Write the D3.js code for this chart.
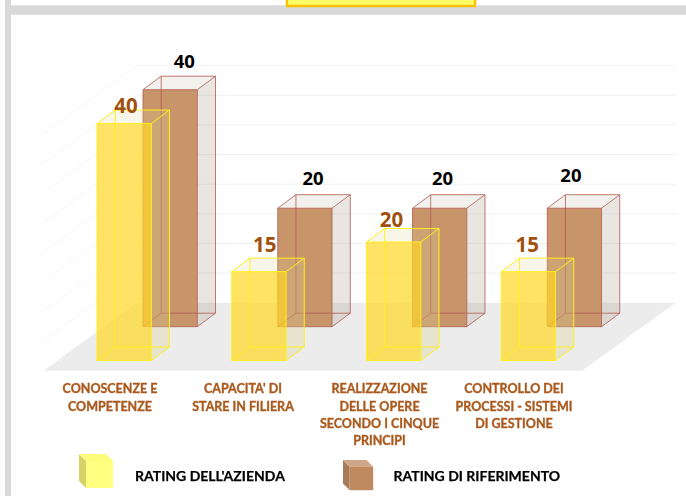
<!DOCTYPE html>
<html>

<head>
    <style>
        html, body { margin: 0; padding: 0; background: #fff; }
        svg { display: block; }
        text { font-family: Lato, "Open Sans", sans-serif; font-weight: 700; }
    </style>
</head>

<body>
    <div id="chart"></div>
    <script src="https://d3js.org/d3.v7.min.js"></script>
    <script>
        const categories = [
            ["CONOSCENZE E", "COMPETENZE"],
            ["CAPACITA' DI", "STARE IN FILIERA"],
            ["REALIZZAZIONE", "DELLE OPERE", "SECONDO I CINQUE", "PRINCIPI"],
            ["CONTROLLO DEI", "PROCESSI - SISTEMI", "DI GESTIONE"]
        ]
        const seriesNames = ["RATING DELL'AZIENDA", "RATING DI RIFERIMENTO"]
        const aziendaValues = [40, 15, 20, 15]
        const riferimentoValues = [40, 20, 20, 20]
        const gridTicks = [5, 10, 15, 20, 25, 30, 35, 40]

        const width = 686
        const height = 496

        const svg = d3.select("#chart").append("svg")
            .attr("width", width)
            .attr("height", height)

        const defs = svg.append("defs")
        defs.append("filter").attr("id", "soft")
            .append("feGaussianBlur").attr("stdDeviation", 0.35)

        // page frame around the chart
        svg.append("rect").attr("x", 5).attr("y", 5.3).attr("width", 681).attr("height", 9.4).attr("fill", "#d8d8d8")
        svg.append("rect").attr("x", 5).attr("y", 0).attr("width", 6).attr("height", 496).attr("fill", "#d8d8d8")
        svg.append("rect").attr("x", 287).attr("y", -4).attr("width", 188).attr("height", 10)
            .attr("fill", "#ffff66").attr("stroke", "#ffc000").attr("stroke-width", 2.4)

        // value -> pixels of height, category -> pixels across
        const y = d3.scaleLinear().domain([0, 40]).range([0, 237])
        const x = d3.scaleBand().domain(d3.range(categories.length)).range([43.3, 582.3])

        const floor = { left: 43.3, right: 582.3, front: 370.7, back: 302.7, dx: 93.4 }
        const barDepth = { dx: 18.2, dy: -13.5 }
        const barWidth = 54.3
        const yellowInset = 53.7
        const brownShift = 46
        const yellowBase = 360.5
        const brownBase = 326.7

        const line = d3.line()
        const closed = pts => line(pts) + "Z"

        // grid on left wall and back wall
        const grid = svg.append("g").attr("fill", "none").attr("stroke-width", 1)
        gridTicks.forEach(d => {
            const h = y(d)
            grid.append("path")
                .attr("d", line([[floor.left, floor.front - h], [floor.left + floor.dx, floor.back - h]]))
                .attr("stroke", "#f6f6f6")
            grid.append("path")
                .attr("d", line([[floor.left + floor.dx, floor.back - h], [floor.right + floor.dx, floor.back - h]]))
                .attr("stroke", "#f1f1f1")
        })

        // floor
        svg.append("path")
            .attr("d", closed([
                [floor.left, floor.front], [floor.right, floor.front],
                [floor.right + floor.dx, floor.back], [floor.left + floor.dx, floor.back]
            ]))
            .attr("fill", "#ececec")

        function drawBar(g, left, base, value, col) {
            const top = base - y(value)
            const r = left + barWidth
            const f = [[left, base], [r, base], [r, top], [left, top]]
            const k = f.map(p => [p[0] + barDepth.dx, p[1] + barDepth.dy])

            g.append("path").attr("d", closed([f[1], f[2], k[2], k[1]])).attr("fill", col.side)
            g.append("path").attr("d", closed([f[3], f[2], k[2], k[3]])).attr("fill", col.top)
            g.append("path").attr("d", closed(f)).attr("fill", col.front)

            const edges = [
                [f[0], f[1], f[2], f[3], f[0]],
                [k[0], k[1], k[2], k[3], k[0]],
                [f[0], k[0]], [f[1], k[1]], [f[2], k[2]], [f[3], k[3]]
            ]
            edges.forEach(e => {
                g.append("path").attr("d", line(e))
                    .attr("fill", "none")
                    .attr("stroke", col.edge)
                    .attr("stroke-width", 1)
            })
        }

        const brownCol = {
            front: "#c8956b", side: "rgba(165,150,135,0.24)", top: "rgba(170,155,125,0.14)",
            edge: "rgba(176,90,80,0.8)"
        }
        const yellowCol = {
            front: "rgba(255,216,40,0.72)", side: "rgba(215,205,140,0.3)", top: "rgba(225,215,150,0.22)",
            edge: "#fff01e"
        }

        const bars = svg.append("g")
        categories.forEach((c, i) => {
            drawBar(bars, x(i) + yellowInset + brownShift, brownBase, riferimentoValues[i], brownCol)
        })
        categories.forEach((c, i) => {
            drawBar(bars, x(i) + yellowInset, yellowBase, aziendaValues[i], yellowCol)
        })

        // value labels sit a bit unevenly over the bars in the original
        const yellowLabelNudge = [[29, 11], [33, 19.5], [25, 15], [26, 19.5]]
        const brownLabelNudge = [[41.3, 22], [35.3, 23], [30, 23], [23.7, 26]]
        const labels = svg.append("g").attr("text-anchor", "middle")
        categories.forEach((c, i) => {
            const yl = x(i) + yellowInset
            labels.append("text")
                .attr("x", yl + yellowLabelNudge[i][0])
                .attr("y", yellowBase - y(aziendaValues[i]) - yellowLabelNudge[i][1])
                .attr("font-size", 20.5)
                .attr("fill", "#a0500f")
                .style("font-family", "'Open Sans'")
                .text(aziendaValues[i])
            labels.append("text")
                .attr("x", yl + brownShift + brownLabelNudge[i][0])
                .attr("y", brownBase - y(riferimentoValues[i]) - brownLabelNudge[i][1])
                .attr("font-size", 18.5)
                .attr("fill", "#000")
                .style("font-family", "'Open Sans'")
                .text(riferimentoValues[i])
        })

        // category labels
        const labelCenters = [110, 243, 379.5, 514]
        const catLabels = svg.append("g")
            .attr("font-size", 12.5)
            .attr("text-anchor", "middle")
            .attr("fill", "#ab5a1e")
            .attr("stroke", "#ab5a1e")
            .attr("stroke-width", 0.35)
            .attr("filter", "url(#soft)")
        categories.forEach((c, i) => {
            const t = catLabels.append("text")
            c.forEach((s, j) => {
                t.append("tspan")
                    .attr("x", labelCenters[i])
                    .attr("y", 393.3 + j * 17.3)
                    .text(s)
            })
        })

        // legend
        function legendCube(g, px, py, size, off, front, side, top) {
            g.append("path").attr("d", closed([[px, py], [px + off, py + off], [px + off, py + size + off], [px, py + size]])).attr("fill", side)
            g.append("path").attr("d", closed([[px, py], [px + size, py], [px + size + off, py + off], [px + off, py + off]])).attr("fill", top)
            g.append("rect").attr("x", px + off).attr("y", py + off).attr("width", size).attr("height", size).attr("fill", front)
        }
        const legend = svg.append("g")
            .attr("stroke-width", 0)
        legendCube(legend, 79, 454, 27, 7, "#ffff80", "#d4d466", "#fbfb7c")
        legendCube(legend, 343, 460, 23.5, 6.7, "#c08a60", "#a87c58", "#cfa688")
        const legendText = svg.append("g")
            .attr("font-size", 14)
            .attr("fill", "#000")
            .attr("stroke", "#000")
            .attr("stroke-width", 0.25)
            .attr("filter", "url(#soft)")
        legendText.append("text").attr("x", 135).attr("y", 481).text(seriesNames[0])
        legendText.append("text").attr("x", 393.5).attr("y", 481).text(seriesNames[1])
    </script>
</body>

</html>
